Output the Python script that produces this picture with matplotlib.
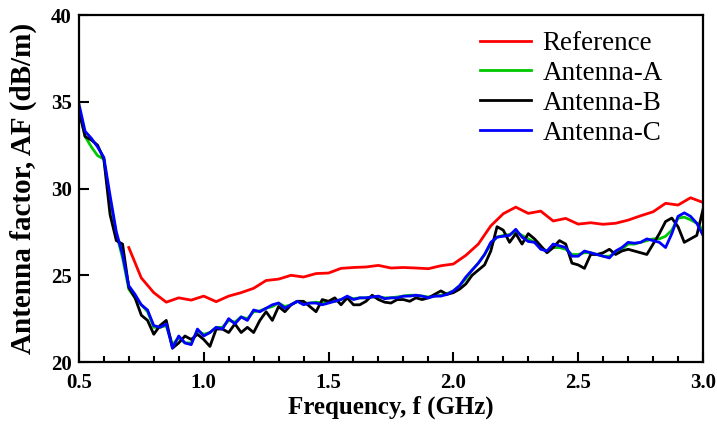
import numpy as np
import matplotlib
matplotlib.use("Agg")
import matplotlib.pyplot as plt
from matplotlib.ticker import MultipleLocator

plt.rcParams['font.family'] = ['Liberation Serif', 'DejaVu Serif']

# reference antenna factor, sampled every 0.05 GHz from 0.70 GHz
f_ref = [0.70, 0.75, 0.80, 0.85, 0.90, 0.95, 1.00, 1.05, 1.10, 1.15, 1.20, 1.25,
         1.30, 1.35, 1.40, 1.45, 1.50, 1.55, 1.60, 1.65, 1.70, 1.75, 1.80, 1.85,
         1.90, 1.95, 2.00, 2.05, 2.10, 2.15, 2.20, 2.25, 2.30, 2.35, 2.40, 2.45,
         2.50, 2.55, 2.60, 2.65, 2.70, 2.75, 2.80, 2.85, 2.90, 2.95, 3.00]
af_ref = [26.6, 24.85, 24.0, 23.45, 23.7, 23.57, 23.8, 23.48, 23.8, 24.0, 24.25, 24.7,
          24.78, 25.0, 24.9, 25.1, 25.13, 25.4, 25.45, 25.48, 25.57, 25.42, 25.45, 25.42,
          25.38, 25.55, 25.65, 26.15, 26.8, 27.85, 28.55, 28.93, 28.57, 28.7, 28.13, 28.28,
          27.95, 28.03, 27.94, 28.0, 28.18, 28.43, 28.66, 29.15, 29.05, 29.47, 29.2]

# measured antennas, 0.5 to 3.0 GHz every 0.025 GHz
f_meas = [0.500, 0.525, 0.550, 0.575, 0.600, 0.625, 0.650, 0.675, 0.700, 0.725,
          0.750, 0.775, 0.800, 0.825, 0.850, 0.875, 0.900, 0.925, 0.950, 0.975,
          1.000, 1.025, 1.050, 1.075, 1.100, 1.125, 1.150, 1.175, 1.200, 1.225,
          1.250, 1.275, 1.300, 1.325, 1.350, 1.375, 1.400, 1.425, 1.450, 1.475,
          1.500, 1.525, 1.550, 1.575, 1.600, 1.625, 1.650, 1.675, 1.700, 1.725,
          1.750, 1.775, 1.800, 1.825, 1.850, 1.875, 1.900, 1.925, 1.950, 1.975,
          2.000, 2.025, 2.050, 2.075, 2.100, 2.125, 2.150, 2.175, 2.200, 2.225,
          2.250, 2.275, 2.300, 2.325, 2.350, 2.375, 2.400, 2.425, 2.450, 2.475,
          2.500, 2.525, 2.550, 2.575, 2.600, 2.625, 2.650, 2.675, 2.700, 2.725,
          2.750, 2.775, 2.800, 2.825, 2.850, 2.875, 2.900, 2.925, 2.950, 2.975,
          3.000]

af_a = [34.6, 33.0, 32.4, 31.9, 31.7, 29.3, 27.4, 26.0, 24.2, 23.7,
        23.3, 22.9, 22.0, 22.0, 22.1, 21.0, 21.4, 21.1, 21.1, 21.8,
        21.6, 21.7, 22.0, 22.0, 22.4, 22.3, 22.6, 22.5, 22.9, 22.95,
        23.1, 23.2, 23.4, 23.2, 23.3, 23.5, 23.4, 23.4, 23.45, 23.4,
        23.5, 23.5, 23.6, 23.75, 23.65, 23.7, 23.7, 23.75, 23.75, 23.7,
        23.7, 23.75, 23.8, 23.85, 23.85, 23.8, 23.75, 23.8, 23.85, 23.95,
        24.1, 24.4, 24.8, 25.3, 25.7, 26.2, 26.8, 27.2, 27.3, 27.35,
        27.5, 27.3, 27.1, 26.9, 26.6, 26.4, 26.6, 26.6, 26.5, 26.2,
        26.2, 26.3, 26.3, 26.2, 26.1, 26.1, 26.3, 26.5, 26.8, 26.8,
        26.9, 27.0, 27.1, 27.1, 27.25, 27.6, 28.3, 28.35, 28.2, 28.0,
        27.6]

af_b = [34.5, 33.0, 32.8, 32.5, 31.7, 28.5, 27.0, 26.8, 24.3, 23.7,
        22.7, 22.4, 21.6, 22.1, 22.4, 20.8, 21.1, 21.5, 21.3, 21.6,
        21.3, 20.9, 21.9, 21.9, 21.7, 22.2, 21.7, 22.0, 21.7, 22.4,
        22.9, 22.4, 23.2, 22.9, 23.3, 23.5, 23.5, 23.2, 22.9, 23.6,
        23.5, 23.7, 23.3, 23.7, 23.3, 23.3, 23.5, 23.85, 23.6, 23.45,
        23.4, 23.6, 23.6, 23.5, 23.7, 23.6, 23.7, 23.9, 24.1, 23.9,
        24.0, 24.2, 24.5, 25.0, 25.3, 25.6, 26.4, 27.8, 27.6, 26.9,
        27.4, 26.8, 27.4, 27.1, 26.7, 26.3, 26.6, 27.0, 26.8, 25.7,
        25.6, 25.4, 26.2, 26.2, 26.3, 26.5, 26.2, 26.4, 26.5, 26.4,
        26.3, 26.2, 26.8, 27.4, 28.1, 28.3, 27.8, 26.9, 27.1, 27.3,
        28.8]

af_c = [34.9, 33.3, 32.9, 32.4, 31.8, 29.6, 27.5, 26.2, 24.4, 23.9,
        23.3, 23.0, 22.1, 22.0, 22.2, 20.8, 21.5, 21.1, 21.0, 21.9,
        21.5, 21.7, 22.0, 21.9, 22.5, 22.2, 22.6, 22.4, 23.0, 22.9,
        23.1, 23.3, 23.4, 23.1, 23.3, 23.5, 23.3, 23.4, 23.4, 23.3,
        23.4, 23.5, 23.6, 23.8, 23.6, 23.7, 23.7, 23.75, 23.8, 23.65,
        23.7, 23.7, 23.8, 23.8, 23.85, 23.8, 23.7, 23.8, 23.8, 23.9,
        24.1, 24.4, 24.9, 25.3, 25.7, 26.2, 26.9, 27.2, 27.25, 27.3,
        27.65, 27.2, 26.95, 26.9, 26.5, 26.4, 26.8, 26.7, 26.6, 26.1,
        26.1, 26.4, 26.3, 26.2, 26.1, 26.0, 26.4, 26.6, 26.9, 26.85,
        26.9, 27.1, 27.0, 26.9, 26.6, 27.4, 28.4, 28.6, 28.4, 28.0,
        27.3]

fig = plt.figure(figsize=(7.17, 4.32), dpi=100)
ax = fig.add_axes([0.110, 0.162, 0.8705, 0.803])

lw = 2.0
ax.plot(f_ref, af_ref, color='#ff0000', lw=lw, label='Reference')
ax.plot(f_meas, af_a, color='#00c800', lw=lw, label='Antenna-A')
ax.plot(f_meas, af_b, color='black', lw=lw, label='Antenna-B')
ax.plot(f_meas, af_c, color='#0000ff', lw=lw, label='Antenna-C')

ax.set_xlim(0.5, 3.0)
ax.set_ylim(20, 40)
ax.xaxis.set_major_locator(MultipleLocator(0.5))
ax.xaxis.set_minor_locator(MultipleLocator(0.1))
ax.yaxis.set_major_locator(MultipleLocator(5))
ax.xaxis.set_major_formatter(matplotlib.ticker.FormatStrFormatter('%.1f'))

ax.tick_params(which='both', direction='in', top=False, right=False, width=1.5)
ax.tick_params(which='major', length=7)
ax.tick_params(which='minor', length=4)
ax.tick_params(axis='x', pad=8)
ax.tick_params(axis='y', pad=5)
for lab in ax.get_xticklabels() + ax.get_yticklabels():
    lab.set_fontsize(15)
    lab.set_fontweight('bold')
for sp in ax.spines.values():
    sp.set_linewidth(1.6)

ax.set_xlabel('Frequency, f (GHz)', fontsize=18, fontweight='bold', labelpad=2)
ax.set_ylabel('Antenna factor, AF (dB/m)', fontsize=21, fontweight='bold', labelpad=10)

ax.legend(loc='upper left', bbox_to_anchor=(0.642, 0.954), frameon=False,
          fontsize=19.5, handlelength=1.9, handletextpad=0.42, labelspacing=0.18,
          borderaxespad=0, borderpad=0)

fig.savefig('out.png', dpi=100)
